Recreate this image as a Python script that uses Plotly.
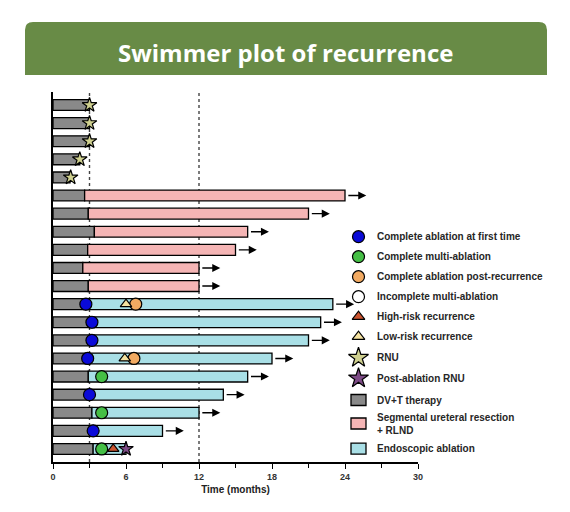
import plotly.graph_objects as go

# ---------------- data ----------------
rows = list(range(1, 21))
dvt_end = [3.0, 3.0, 3.0, 2.2, 1.4, 2.6, 2.9, 3.4, 2.85, 2.45, 2.9,
           2.7, 3.2, 3.2, 2.85, 2.9, 3.0, 3.2, 3.3, 3.3]
seg_type = [None] * 5 + ["seg"] * 6 + ["endo"] * 9
total_end = [None] * 5 + [24, 21, 16, 15, 12, 12, 23, 22, 21, 18, 16, 14, 12, 9, 6]
has_arrow = [False] * 5 + [True] * 14 + [False]

rnu_rows = [1, 2, 3, 4, 5]
rnu_x = [3.0, 3.0, 3.0, 2.2, 1.45]
blue_rows = [12, 13, 14, 15, 17, 19]
blue_x = [2.7, 3.2, 3.2, 2.85, 3.0, 3.3]
green_rows = [16, 18, 20]
green_x = [4.0, 4.0, 4.0]
orange_rows = [12, 15]
orange_x = [6.8, 6.65]
low_rows = [12, 15]
low_x = [6.0, 5.9]
high_rows = [20]
high_x = [4.95]
post_rows = [20]
post_x = [6.0]

x_ticks = [0, 6, 12, 18, 24, 30]
ref_lines = [3, 12]

legend_labels = ["Complete ablation at first time", "Complete multi-ablation",
                 "Complete ablation post-recurrence", "Incomplete multi-ablation",
                 "High-risk recurrence", "Low-risk recurrence", "RNU", "Post-ablation RNU",
                 "DV+T therapy", "Segmental ureteral resection<br>+ RLND", "Endoscopic ablation"]

# ---------------- styles ----------------
C_GRAY, C_PINK, C_TEAL = "#898989", "#f5b5b5", "#a9dfe6"
C_BLUE, C_GREEN, C_ORANGE = "#0a0ad8", "#45bf45", "#f2aa62"
C_HIGH, C_LOW, C_RNU, C_POST = "#cc5530", "#f5e2a0", "#cfd08f", "#7d4b86"
legend_style = [("circle", C_BLUE, 12), ("circle", C_GREEN, 12), ("circle", C_ORANGE, 12),
                ("circle", "white", 12), ("triangle-up", C_HIGH, 11),
                ("triangle-up", C_LOW, 11), ("star", C_RNU, 15), ("star", C_POST, 15),
                ("bar", C_GRAY, 0), ("bar", C_PINK, 0), ("bar", C_TEAL, 0)]
# legend layout in pixel units (overlay axes)
legend_y_px = [236.7, 256.7, 276.7, 296.7, 316.7, 336.7, 357.7, 378.3, 400, 423.5, 448.7]
LEG_MX, LEG_TX = 358.5, 375

# ---------------- figure ----------------
fig = go.Figure()
edge = dict(color="black", width=1.3)
BW = 0.6

fig.add_trace(go.Bar(y=rows, x=dvt_end, base=0, orientation="h", width=BW,
                     marker=dict(color=C_GRAY, line=edge), showlegend=False))

seg_rows = [r for r, t in zip(rows, seg_type) if t == "seg"]
seg_base = [d for d, t in zip(dvt_end, seg_type) if t == "seg"]
seg_len = [e - d for d, e, t in zip(dvt_end, total_end, seg_type) if t == "seg"]
fig.add_trace(go.Bar(y=seg_rows, x=seg_len, base=seg_base, orientation="h", width=BW,
                     marker=dict(color=C_PINK, line=edge), showlegend=False))

endo_rows = [r for r, t in zip(rows, seg_type) if t == "endo"]
endo_base = [d for d, t in zip(dvt_end, seg_type) if t == "endo"]
endo_len = [e - d for d, e, t in zip(dvt_end, total_end, seg_type) if t == "endo"]
fig.add_trace(go.Bar(y=endo_rows, x=endo_len, base=endo_base, orientation="h", width=BW,
                     marker=dict(color=C_TEAL, line=edge), showlegend=False))

mline = dict(color="black", width=1.2)
def pts(x, y, symbol, color, size):
    fig.add_trace(go.Scatter(x=x, y=y, mode="markers", showlegend=False, cliponaxis=False,
                             marker=dict(symbol=symbol, color=color, size=size, line=mline)))

pts(rnu_x, rnu_rows, "star", C_RNU, 11)
pts(blue_x, blue_rows, "circle", C_BLUE, 12)
pts(green_x, green_rows, "circle", C_GREEN, 12)
pts(orange_x, orange_rows, "circle", C_ORANGE, 12)
pts(low_x, low_rows, "triangle-up", C_LOW, 10)
pts(high_x, high_rows, "triangle-up", C_HIGH, 10)
pts(post_x, post_rows, "star", C_POST, 11)

# arrows
for r, e, a in zip(rows, total_end, has_arrow):
    if a:
        fig.add_annotation(x=e + 1.75, y=r, ax=e + 0.15, ay=r, xref="x", yref="y",
                           axref="x", ayref="y", text="", showarrow=True,
                           arrowhead=2, arrowsize=1.15, arrowwidth=1.4, arrowcolor="black")

# dotted reference lines
for v in ref_lines:
    fig.add_shape(type="line", x0=v, x1=v, xref="x", y0=0, y1=1, yref="paper",
                  line=dict(color="#444444", width=1.4, dash="dot"), layer="below")

# ---------------- manual legend on pixel-scaled overlay axes ----------------
for (sym, col, sz), lab, ly in zip(legend_style, legend_labels, legend_y_px):
    if sym == "bar":
        fig.add_shape(type="rect", xref="x2", yref="y2", x0=LEG_MX - 7.5, x1=LEG_MX + 7.5,
                      y0=ly - 5.5, y1=ly + 5.5, fillcolor=col,
                      line=dict(color="black", width=1.3))
    else:
        fig.add_trace(go.Scatter(x=[LEG_MX], y=[ly], xaxis="x2", yaxis="y2", mode="markers",
                                 showlegend=False, cliponaxis=False,
                                 marker=dict(symbol=sym, color=col, size=sz, line=mline)))
    fig.add_annotation(text=lab, xref="x2", yref="y2", x=LEG_TX, y=ly, showarrow=False,
                       xanchor="left", yanchor="middle", align="left",
                       font=dict(family="Liberation Sans, Arial", size=10,
                                 color="#262626", weight="bold"))

# title banner
x0, x1 = -0.0767, 1.3534
yt, yb = 1.1892, 1.0459
rx, ry = 0.022, 0.0216
path = (f"M {x0},{yb} L {x0},{yt-ry} Q {x0},{yt} {x0+rx},{yt} "
        f"L {x1-rx},{yt} Q {x1},{yt} {x1},{yt-ry} L {x1},{yb} Z")
fig.add_shape(type="path", path=path, xref="paper", yref="paper",
              fillcolor="#688b46", line=dict(width=0), layer="below")
fig.add_annotation(text="Swimmer plot of recurrence", xref="paper", yref="paper",
                   x=0.638, y=1.108, showarrow=False, xanchor="center", yanchor="middle",
                   font=dict(family="Open Sans", size=24, color="white", weight="bold"))

fig.update_layout(
    width=570, height=512,
    margin=dict(l=53, r=152, t=92, b=50),
    paper_bgcolor="white", plot_bgcolor="white",
    barmode="overlay", bargap=0.4,
    font=dict(family="Liberation Sans, Arial", color="#222222"),
    showlegend=False,
    xaxis=dict(range=[0, 30], tickvals=x_ticks, ticks="outside", ticklen=5, tickwidth=1.3,
               tickcolor="black", showline=True, linecolor="black", linewidth=1.5,
               showgrid=False, zeroline=False,
               minor=dict(tickvals=[3, 9, 15, 21, 27], ticks="outside", ticklen=4,
                          tickwidth=1.2, tickcolor="black", showgrid=False),
               tickfont=dict(size=9, color="#333333", weight="bold"),
               title=dict(text="Time (months)", standoff=5,
                          font=dict(size=10, color="#222222", weight="bold"))),
    yaxis=dict(range=[20.72, 0.28], autorange=False, showticklabels=False, ticks="",
               showline=True, linecolor="black", linewidth=1.5, showgrid=False,
               zeroline=False),
    xaxis2=dict(overlaying="x", range=[53, 418], visible=False, fixedrange=True),
    yaxis2=dict(overlaying="y", range=[462, 92], visible=False, fixedrange=True),
)

fig.write_html("out.html")
